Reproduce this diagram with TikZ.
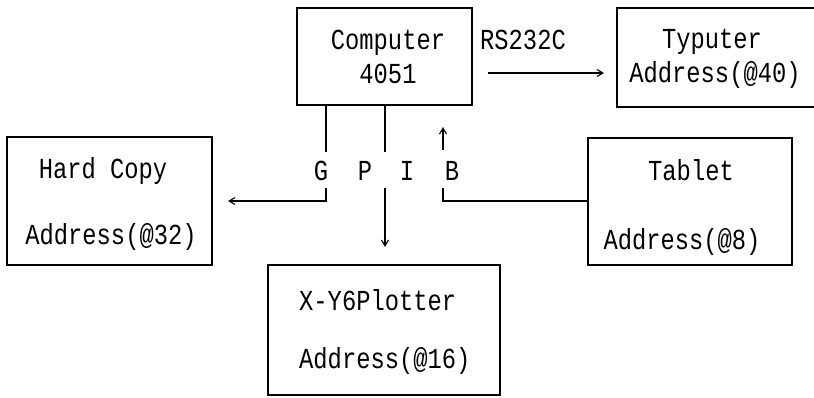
\documentclass[tikz,border=0pt]{standalone}
\usepackage{fontspec}
\setmainfont[FakeStretch=0.82]{Liberation Mono}
\usetikzlibrary{arrows.meta}
\begin{document}
\begin{tikzpicture}[x=1pt,y=-1pt,
  box/.style={draw,line width=1.3pt,inner sep=0pt},
  txt/.style={inner sep=0pt,font=\fontsize{29}{32}\selectfont,anchor=base},
  wire/.style={line width=1.1pt},
  arr/.style={wire,-{Straight Barb[length=6pt,width=7pt,line width=1.1pt]}}]
\useasboundingbox (0,0) rectangle (814,397);
% boxes
\node[box,minimum width=175pt,minimum height=97pt] (comp) at (384.5,56.5) {};
\node[box,minimum width=204pt,minimum height=99pt] (typ) at (719,57.5) {};
\node[box,minimum width=205pt,minimum height=128pt] (hc) at (109.5,201) {};
\node[box,minimum width=204pt,minimum height=127pt] (tab) at (690,201.5) {};
\node[box,minimum width=232pt,minimum height=130pt] (xy) at (384,330) {};
% texts
\node[txt] (t1) at (388,49) {Computer};
\node[txt] (t2) at (388,83) {4051};
\node[txt] (t3) at (712,48) {Typuter};
\node[txt] (t4) at (715,82) {Address(@40)};
\node[txt] (t5) at (103,178) {Hard Copy};
\node[txt] (t6) at (111,244) {Address(@32)};
\node[txt] (t7) at (691,180) {Tablet};
\node[txt] (t8) at (682,249) {Address(@8)};
\node[txt,anchor=base west] (t9) at (299,310) {X-Y6Plotter};
\node[txt,anchor=base west] (t10) at (299,368) {Address(@16)};
\node[txt] (rs) at (523,49) {RS232C};
\node[txt] (g) at (321,180) {G};
\node[txt] (p) at (365,180) {P};
\node[txt] (i) at (407,180) {I};
\node[txt] (b) at (452,180) {B};
% coordinates
\coordinate (g1) at (326,152);
\coordinate (g2) at (326,188);
\coordinate (g3) at (228,201);
\coordinate (p1) at (385,152);
\coordinate (p2) at (385,188);
\coordinate (p3) at (385,247);
\coordinate (b0) at (443,150);
\coordinate (b1) at (443,127);
\coordinate (b2) at (443,188);
\coordinate (rsa) at (488,73);
\coordinate (rsb) at (604,73);
% connectors
\draw[wire] (comp.south -| g1) -- (g1);
\draw[arr] (g2) |- (g3);
\draw[wire] (comp.south -| p1) -- (p1);
\draw[arr] (p2) -- (p3);
\draw[arr] (b0) -- (b1);
\draw[wire] (b2) |- (tab.west |- 0,201);
\draw[arr] (rsa) -- (rsb);
\end{tikzpicture}
\end{document}
